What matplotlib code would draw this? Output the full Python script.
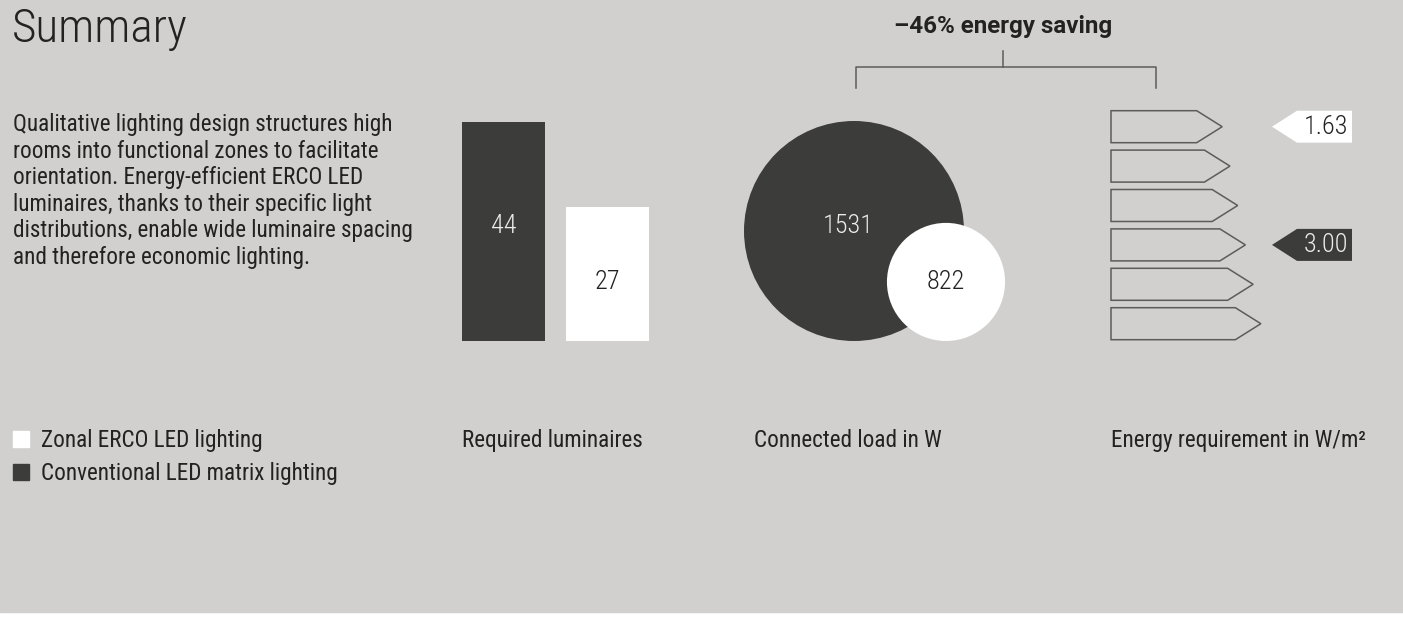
import matplotlib
matplotlib.use('Agg')
import matplotlib.pyplot as plt
import matplotlib.transforms as mtransforms
from matplotlib import font_manager
from matplotlib.patches import Circle, Polygon, Rectangle

# ---- data ----
systems = ['Conventional LED matrix lighting', 'Zonal ERCO LED lighting']
luminaires = [44, 27]
load_w = [1531, 822]
energy_req = [3.00, 1.63]
energy_row = [3, 0]          # row on the energy class scale (0 = best)
n_classes = 6
panel_titles = ['Required luminaires', 'Connected load in W', 'Energy requirement in W/m²']
title = 'Summary'
body = ['Qualitative lighting design structures high',
        'rooms into functional zones to facilitate',
        'orientation. Energy-efficient ERCO LED',
        'luminaires, thanks to their specific light',
        'distributions, enable wide luminaire spacing',
        'and therefore economic lighting.']

# ---- style ----
W, H = 1403, 618
BG = '#d1d0ce'
DARK = '#3c3c3a'
LIGHT = '#ffffff'
INK = '#222222'
LINE = '#5c5c5c'
fills = [DARK, LIGHT]
num_colors = ['#ececec', INK]

installed = {f.name for f in font_manager.fontManager.ttflist}
FONT = next(f for f in ['Liberation Sans Narrow', 'Roboto Condensed', 'Roboto', 'DejaVu Sans']
            if f in installed)
HEAD_FONT = 'Roboto' if 'Roboto' in installed else FONT
plt.rcParams['font.family'] = [FONT, 'DejaVu Sans']

fig = plt.figure(figsize=(W / 100, H / 100), dpi=100, facecolor='white')
renderer = fig.canvas.get_renderer()


def box(x0, ytop, x1, ybot):
    # pixel box -> figure fraction rect
    return [x0 / W, 1 - ybot / H, (x1 - x0) / W, (ybot - ytop) / H]


def fit(t, width):
    w = t.get_window_extent(renderer).width
    t.set_fontsize(t.get_fontsize() * width / w)
    return t.get_fontsize()


# overlay axes in pixel coordinates
ax = fig.add_axes([0, 0, 1, 1], zorder=0)
ax.set_xlim(0, W)
ax.set_ylim(H, 0)
ax.axis('off')
ax.add_patch(Rectangle((0, 0), W, 612, color=BG, zorder=0))

# title and body text
t = ax.text(12, 42, title, fontsize=30, weight='light', color=INK, va='baseline')
fit(t, 175)
t = ax.text(13, 131, body[0], fontsize=13, color=INK, va='baseline')
fs = fit(t, 377)
for i, line in enumerate(body[1:], 1):
    ax.text(13, 131 + 26.6 * i, line, fontsize=fs, color=INK, va='baseline')

# legend
for i, k in enumerate([1, 0]):
    y = 447 + 33 * i
    ax.add_patch(Rectangle((13, y - 16), 16, 16, color=fills[k], zorder=2))
    ax.text(41, y, systems[k], fontsize=fs, color=INK, va='baseline')

# panel titles
for x, s in zip([462, 754, 1111], panel_titles):
    ax.text(x, 447, s, fontsize=fs, color=INK, va='baseline')

# number size
tmp = ax.text(0, 0, str(load_w[0]), fontsize=18, weight='light')
nfs = fit(tmp, 51)
tmp.remove()
label_y = [226, 282]  # dark values / white values sit on two levels

# ---- bar chart: required luminaires ----
px_per_lum = 4.97
axb = fig.add_axes(box(451.5, 100, 659.5, 341), zorder=1)
axb.set_xlim(-0.5, 1.5)
axb.set_ylim(0, (341 - 100) / px_per_lum)
axb.bar(range(len(luminaires)), luminaires, width=0.8, color=fills)
axb.axis('off')
tr = mtransforms.blended_transform_factory(axb.transData, ax.transData)
for i, v in enumerate(luminaires):
    axb.text(i, label_y[i], str(v), transform=tr, ha='center', va='center',
             fontsize=nfs, color=num_colors[i], weight='light')

# ---- circles: connected load (radius ~ value) ----
px_per_w = 110 / 1531
cx = [854, 946]
for i, v in enumerate(load_w):
    r = v * px_per_w
    ax.add_patch(Circle((cx[i], 341 - r), r, color=fills[i], zorder=2 + i, lw=0))
    ax.text(cx[i] - 6 * (i == 0), label_y[i], str(v), ha='center', va='center',
            fontsize=nfs, color=num_colors[i], weight='light', zorder=5)

# bracket and saving
saving = round((1 - load_w[1] / load_w[0]) * 100)
bx0, bx1, by = 855.5, 1156, 67
ax.plot([bx0, bx0, bx1, bx1], [88, by, by, 88], color=LINE, lw=1.1, zorder=3)
ax.plot([1003, 1003], [51, by], color=LINE, lw=1.1, zorder=3)
t = ax.text(1003, 26, f'–{saving}% energy saving', ha='center', va='center',
            weight='bold', fontsize=15, color=INK, family=[HEAD_FONT, 'DejaVu Sans'])
fit(t, 220)

# ---- energy class scale ----
row_top = [110.7 + 39.4 * i for i in range(n_classes)]
for i in range(n_classes):
    top = row_top[i]
    end = 1196.7 + 7.73 * i
    pts = [(1111, top), (end, top), (end + 25.5, top + 16), (end, top + 32), (1111, top + 32)]
    ax.add_patch(Polygon(pts, closed=True, fill=False, edgecolor=LINE, lw=1.1, zorder=3))

for i, (v, row) in enumerate(zip(energy_req, energy_row)):
    top = row_top[row]
    pts = [(1272, top + 16), (1297, top), (1352, top), (1352, top + 32), (1297, top + 32)]
    ax.add_patch(Polygon(pts, closed=True, color=fills[i], lw=0, zorder=3))
    ax.text(1326, top + 16, f'{v:.2f}', ha='center', va='center', fontsize=nfs,
            color=num_colors[i], weight='light', zorder=4)

fig.savefig('out.png', dpi=100, facecolor='white')
